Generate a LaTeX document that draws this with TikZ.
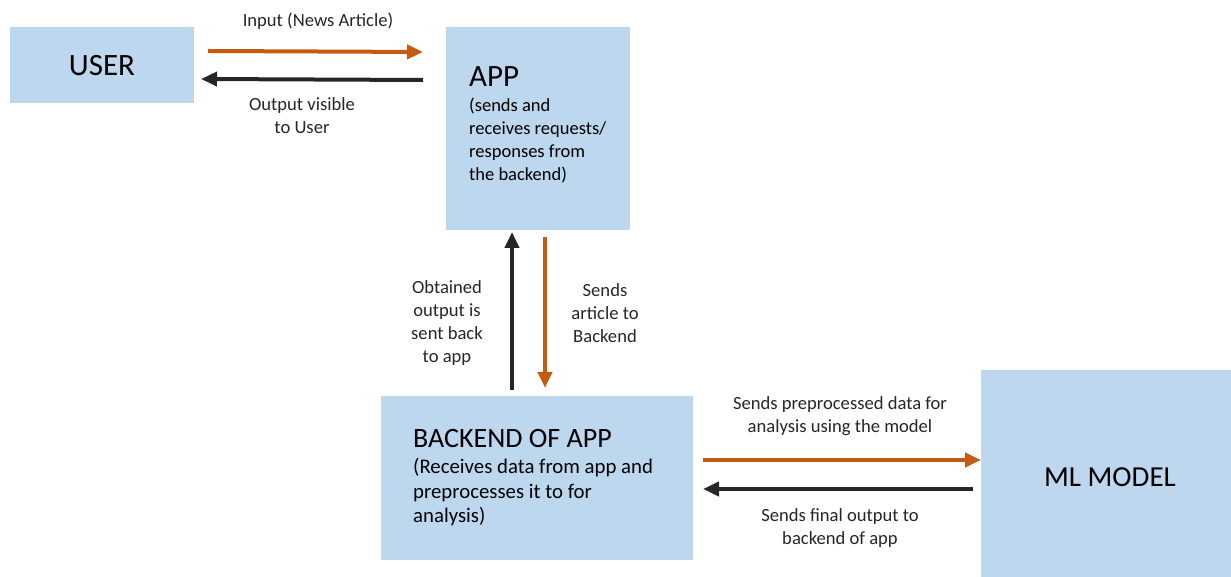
\documentclass[tikz,border=0pt]{standalone}
\usepackage{fontspec}
\setmainfont{Carlito}
\usetikzlibrary{arrows.meta}
\definecolor{boxfill}{HTML}{BDD7EE}
\definecolor{arrorange}{HTML}{C55A11}
\definecolor{arrblack}{HTML}{262626}
\begin{document}
\begin{tikzpicture}[x=1pt,y=1pt,
  box/.style={fill=boxfill,draw=none,inner sep=0pt,outer sep=0pt},
  head/.style={font=\fontsize{29}{34}\selectfont,inner sep=0pt,text=black},
  sub/.style={font=\fontsize{18.5}{23}\selectfont,inner sep=0pt,align=left,text=black},
  lbl/.style={font=\fontsize{18.6}{23}\selectfont,inner sep=0pt,align=center,text=arrblack},
  oarr/.style={draw=arrorange,line width=4pt,-{Triangle[length=16pt,width=14pt]}},
  barr/.style={draw=arrblack,line width=4pt,-{Triangle[length=16pt,width=14pt]}}]
\useasboundingbox (0,0) rectangle (1231,577);
% boxes
\node[box,minimum width=184pt,minimum height=76pt] (user) at (102,512) {};
\node[box,minimum width=184pt,minimum height=203pt] (app) at (538,448.5) {};
\node[box,minimum width=312pt,minimum height=164pt] (backend) at (537,99) {};
\node[box,minimum width=250pt,minimum height=207pt] (ml) at (1106,103.5) {};
% box texts
\node[head,font=\fontsize{31}{36}\selectfont] (usertxt) at (102,511) {USER};
\node[head,anchor=west,font=\fontsize{31}{36}\selectfont] (apptxt) at (469,500) {APP};
\node[sub,anchor=west] (appsub) at (469,436) {(sends and\\receives requests/\\responses from\\the backend)};
\node[head,anchor=west,font=\fontsize{28}{33}\selectfont] (backtxt) at (413,138) {BACKEND OF APP};
\node[sub,anchor=west,font=\fontsize{20.8}{24.5}\selectfont] (backsub) at (413,84.5) {(Receives data from app and\\preprocesses it to for\\analysis)};
\node[head] (mltxt) at (1110,100) {ML MODEL};
% connectors
\draw[oarr] ([xshift=14pt,yshift=14pt]user.east) -- ([xshift=-23pt,yshift=76.5pt]app.west);
\draw[barr] ([xshift=-23pt,yshift=48.5pt]app.west) -- ([xshift=7pt,yshift=-14pt]user.east);
\draw[barr] ([xshift=-25pt,yshift=6pt]backend.north) -- ([xshift=-26pt,yshift=-2pt]app.south);
\draw[oarr] ([xshift=7pt,yshift=-7pt]app.south) -- ([xshift=8pt,yshift=8pt]backend.north);
\draw[oarr] ([xshift=10pt,yshift=18pt]backend.east) -- ([yshift=13.5pt]ml.west);
\draw[barr] ([xshift=-8pt,yshift=-15.5pt]ml.west) -- ([xshift=10pt,yshift=-11pt]backend.east);
% labels
\node[lbl] (l1) at (318,556) {Input (News Article)};
\node[lbl] (l2) at (302,461) {Output visible\\to User};
\node[lbl] (l3) at (447,254) {Obtained\\output is\\sent back\\to app};
\node[lbl] (l4) at (605,264) {Sends\\article to\\Backend};
\node[lbl] (l5) at (840,160.5) {Sends preprocessed data for\\analysis using the model};
\node[lbl] (l6) at (840,49) {Sends final output to\\backend of app};
\end{tikzpicture}
\end{document}
